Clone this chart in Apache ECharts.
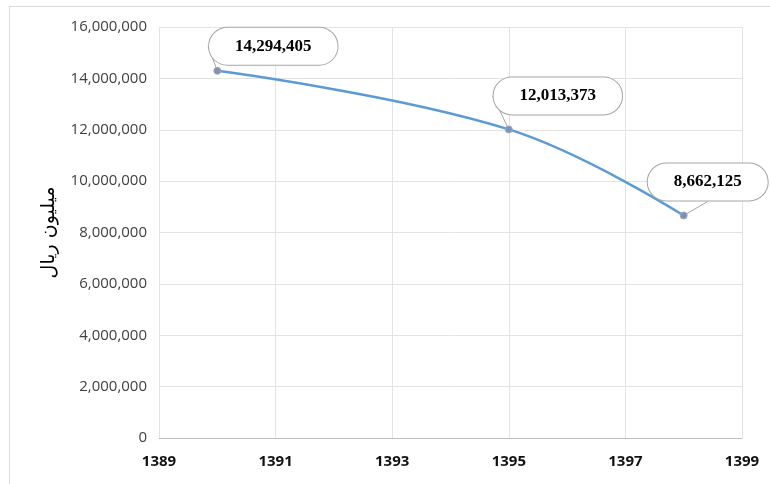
<!DOCTYPE html>
<html>
<head>
<meta charset="utf-8">
<script src="https://cdn.jsdelivr.net/npm/echarts@6/dist/echarts.min.js"></script>
<style>
html,body{margin:0;padding:0;background:#fff;}
#chart{width:770px;height:484px;}
</style>
</head>
<body>
<div id="chart"></div>
<script>
const years = [1390, 1395, 1398];
const values = [14294405, 12013373, 8662125];
const yAxisTitle = 'میلیون ریال';
const labelShift = [[56, 3], [49, -6], [24, -6]];

const fmt = v => Math.round(v).toString().replace(/\B(?=(\d{3})+(?!\d))/g, ',');

const chart = echarts.init(document.getElementById('chart'), null, {renderer: 'canvas'});
chart.setOption({
  backgroundColor: '#ffffff',
  animation: false,
  graphic: [{
    type: 'rect',
    shape: {x: 9.5, y: 6.5, width: 780, height: 490},
    style: {fill: 'none', stroke: '#d9d9d9', lineWidth: 1},
    silent: true, z: -1
  }],
  grid: {left: 159, right: 28, top: 27, bottom: 46, containLabel: false},
  xAxis: {
    type: 'value', min: 1389, max: 1399, interval: 2,
    axisLine: {show: true, lineStyle: {color: '#bfbfbf'}},
    axisTick: {show: false},
    splitLine: {show: true, lineStyle: {color: '#e3e3e3'}},
    axisLabel: {color: '#111', fontWeight: 'bold', fontSize: 15, fontFamily: 'Open Sans', margin: 16, formatter: v => String(v)}
  },
  yAxis: {
    type: 'value', min: 0, max: 16000000, interval: 2000000,
    name: yAxisTitle, nameLocation: 'middle', nameRotate: 90, nameGap: 100,
    nameTextStyle: {color: '#000', fontSize: 19, fontFamily: 'DejaVu Sans'},
    axisLine: {show: false}, axisTick: {show: false},
    splitLine: {show: true, lineStyle: {color: '#e3e3e3'}},
    axisLabel: {color: '#404040', fontSize: 15, fontFamily: 'Open Sans', margin: 12, formatter: v => fmt(v)}
  },
  series: [{
    type: 'line',
    data: years.map((y, i) => [y, values[i]]),
    smooth: 0.4,
    symbol: 'circle', symbolSize: 7,
    lineStyle: {color: '#5b9bd5', width: 2.5},
    itemStyle: {color: '#7d93b8', borderColor: '#a0a8c0', borderWidth: 1},
    label: {
      show: true, position: 'top', distance: 5,
      formatter: p => fmt(p.value[1]),
      fontFamily: 'Liberation Serif', fontWeight: 'bold', fontSize: 17, color: '#000',
      backgroundColor: '#fff', borderColor: '#a6a6a6', borderWidth: 1,
      borderRadius: 20, padding: [10, 26]
    },
    labelLine: {show: true, lineStyle: {color: '#a6a6a6', width: 1}},
    labelLayout: p => ({dx: labelShift[p.dataIndex][0], dy: labelShift[p.dataIndex][1]})
  }]
});
</script>
</body>
</html>
